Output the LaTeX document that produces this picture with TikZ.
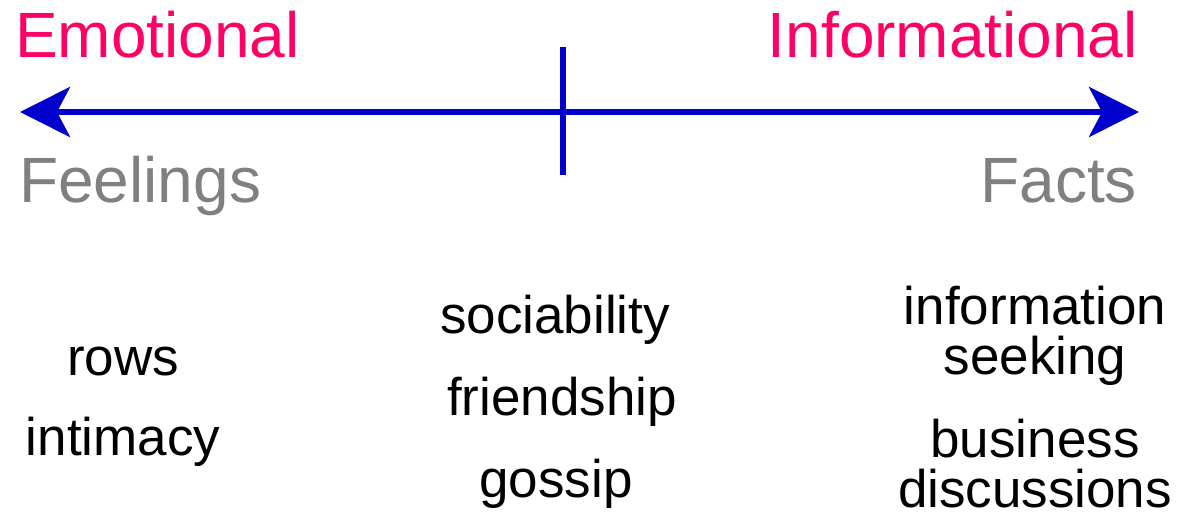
\documentclass[tikz,border=0pt]{standalone}
\usepackage{fontspec}
\setmainfont{Liberation Sans}
\usetikzlibrary{arrows.meta}
\definecolor{axisblue}{RGB}{0,0,204}
\definecolor{headpink}{RGB}{255,0,102}
\definecolor{sidegray}{RGB}{128,128,128}
\begin{document}
\begin{tikzpicture}[x=1pt,y=-1pt,
  axis/.style={draw=axisblue,line width=6pt},
  big/.style={inner sep=0pt,font=\fontsize{64}{75}\selectfont},
  head/.style={big,text=headpink},
  side/.style={big,text=sidegray},
  item/.style={inner sep=0pt,font=\fontsize{53}{50}\selectfont,text=black,align=center}]
\useasboundingbox (0,0) rectangle (1181,512);
\coordinate (L) at (20,112);
\coordinate (R) at (1139,112);
\coordinate (T1) at (563,47);
\coordinate (T2) at (563,175);
\draw[axis,{Stealth[length=50pt,width=50pt,inset=13pt]}-{Stealth[length=50pt,width=50pt,inset=13pt]}] (L) -- (R);
\draw[axis] (T1) -- (T2);
\node[head,anchor=base west] (emo) at (15,57) {Emotional};
\node[head,anchor=base east] (inf) at (1138,57) {Informational};
\node[side,anchor=base west] (feel) at (19,202) {Feelings};
\node[side,anchor=base east] (fact) at (1137,202) {Facts};
\node[item,anchor=base] (rows) at (123,375) {rows};
\node[item,anchor=base] (intim) at (123,455) {intimacy};
\node[item,anchor=base] (soc) at (555,333) {sociability};
\node[item,anchor=base] (fri) at (562,415) {friendship};
\node[item,anchor=base] (gos) at (556,497) {gossip};
\node[item,anchor=base] (info1) at (1035,324) {information};
\node[item,anchor=base] (info2) at (1035,374) {seeking};
\node[item,anchor=base] (bus1) at (1035,457) {business};
\node[item,anchor=base] (bus2) at (1035,507) {discussions};
\end{tikzpicture}
\end{document}
